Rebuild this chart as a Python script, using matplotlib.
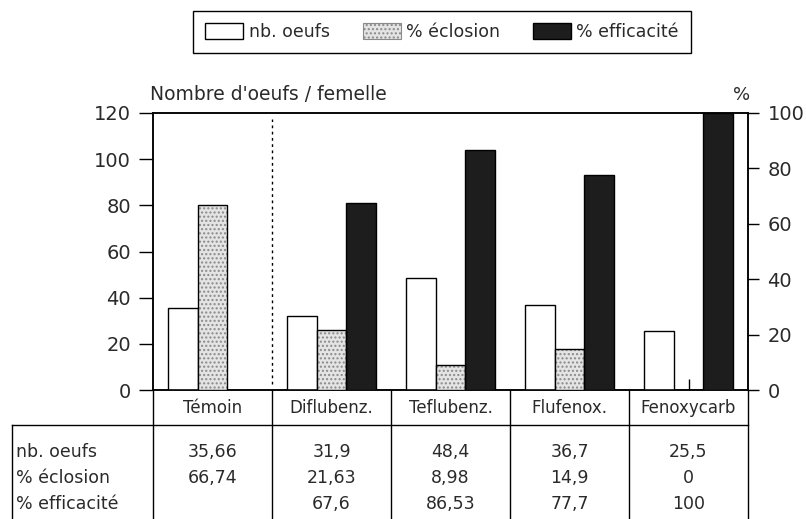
import matplotlib
matplotlib.use("Agg")
import matplotlib.pyplot as plt
import matplotlib.transforms as mtransforms
from matplotlib.patches import Patch
from matplotlib.lines import Line2D
import numpy as np

plt.rcParams["font.family"] = ["DejaVu Sans"]

categories = ["Témoin", "Diflubenz.", "Teflubenz.", "Flufenox.", "Fenoxycarb"]
nb_oeufs = [35.66, 31.9, 48.4, 36.7, 25.5]
eclosion = [66.74, 21.63, 8.98, 14.9, 0]
efficacite = [np.nan, 67.6, 86.53, 77.7, 100]
row_labels = ["nb. oeufs", "% éclosion", "% efficacité"]
left_ticks = [0, 20, 40, 60, 80, 100, 120]
right_ticks = [0, 20, 40, 60, 80, 100]


def fr(v):
    if v is None or np.isnan(v):
        return ""
    return f"{v:g}".replace(".", ",")


W, H = 806, 519
txt_col = "#2a2a2a"
fig = plt.figure(figsize=(W / 100, H / 100), dpi=100)
ax = fig.add_axes([153 / W, 129 / H, 595 / W, 277 / H])
ax2 = ax.twinx()

x = np.arange(len(categories))
bw = 0.25
dot_col = "#e4e4e4"
black_col = "#1d1d1d"

ax.bar(x - bw, nb_oeufs, bw, color="white", edgecolor="black", linewidth=1.0, zorder=3)
# dotted fill then black outline on top
ax2.bar(x, eclosion, bw, color=dot_col, edgecolor="#8a8a8a", hatch="....", linewidth=0, zorder=3)
ax2.bar(x, eclosion, bw, fill=False, edgecolor="black", linewidth=1.0, zorder=4)
ax2.bar(x + bw, efficacite, bw, color=black_col, edgecolor="black", linewidth=1.0, zorder=3)

ax.set_xlim(-0.5, 4.5)
ax.set_ylim(0, 120)
ax2.set_ylim(0, 100)
ax.set_yticks(left_ticks)
ax2.set_yticks(right_ticks)

# group ticks drawn on the twin so they sit above the bars
ax.tick_params(axis="x", bottom=False, labelbottom=False)
ax2.xaxis.set_visible(True)
ax2.set_xticks(x)
ax2.tick_params(axis="x", bottom=True, top=False, labelbottom=False, labeltop=False,
                direction="in", length=8, width=1)

ax.tick_params(axis="y", direction="out", length=10, width=1, labelsize=14, pad=6, labelcolor=txt_col)
ax2.tick_params(axis="y", direction="out", length=8, width=1, labelsize=14, pad=6, labelcolor=txt_col)
for a in (ax, ax2):
    for s in a.spines.values():
        s.set_linewidth(1.1)

# separator between control and treatments
ax.axvline(0.5, ymin=0.02, ymax=0.98, color="black", linestyle=(0, (2, 2.5)), linewidth=1.0)

fig.text(150 / W, 1 - 95 / H, "Nombre d'oeufs / femelle", fontsize=13.5,
         ha="left", va="center", color=txt_col)
fig.text(742 / W, 1 - 95 / H, "%", fontsize=13, ha="center", va="center", color=txt_col)

# table under the axis
tr = mtransforms.blended_transform_factory(ax.transData, fig.transFigure)
y_axis = 1 - 390 / H
y_cat = 1 - 425 / H
y_bot = 0.0
line_kw = dict(color="black", linewidth=1.0)
for b in np.arange(len(categories) + 1) - 0.5:
    fig.add_artist(Line2D([b, b], [y_axis, y_bot], transform=tr, **line_kw))
fig.add_artist(Line2D([12 / W, 748 / W], [y_cat, y_cat], transform=fig.transFigure, **line_kw))
fig.add_artist(Line2D([12 / W, 12 / W], [y_cat, y_bot], transform=fig.transFigure, **line_kw))

for i, c in enumerate(categories):
    fig.text(x[i], 1 - 408 / H, c, transform=tr, ha="center", va="center",
             fontsize=12, color=txt_col)

rows = [nb_oeufs, eclosion, efficacite]
row_y = [452, 478, 504]
for label, vals, yy in zip(row_labels, rows, row_y):
    fig.text(16 / W, 1 - yy / H, label, ha="left", va="center", fontsize=12.5, color=txt_col)
    for i, v in enumerate(vals):
        fig.text(x[i], 1 - yy / H, fr(v), transform=tr, ha="center", va="center",
                 fontsize=12.5, color=txt_col)

handles = [
    Patch(facecolor="white", edgecolor="black", linewidth=1.0),
    Patch(facecolor=dot_col, edgecolor="#8a8a8a", hatch="....", linewidth=0.8),
    Patch(facecolor=black_col, edgecolor="black", linewidth=1.0),
]
leg = fig.legend(handles, ["nb. oeufs", "% éclosion", "% efficacité"], ncol=3,
                 loc="center", bbox_to_anchor=(442 / W, 1 - 32 / H), fontsize=12.5,
                 frameon=True, fancybox=False, edgecolor="black", framealpha=1,
                 handlelength=2.2, handleheight=1.0, handletextpad=0.3, columnspacing=1.9,
                 borderpad=0.7)
leg.get_frame().set_linewidth(1.0)
for t in leg.get_texts():
    t.set_color(txt_col)

fig.savefig("out.png", dpi=100)
